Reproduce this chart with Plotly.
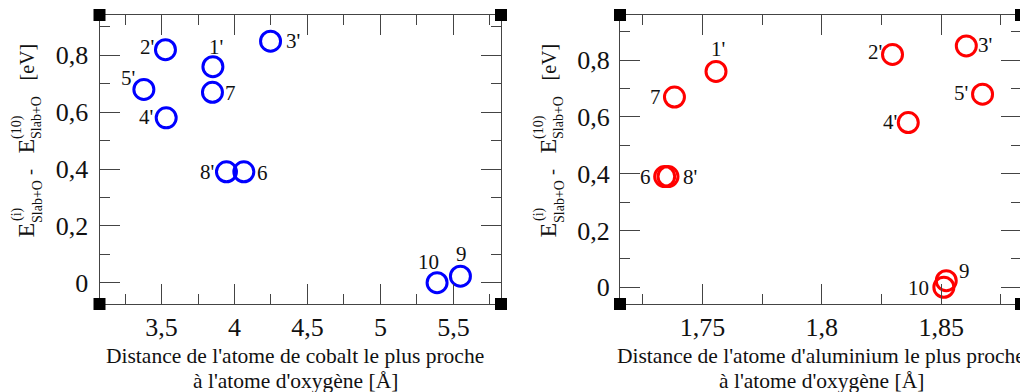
import plotly.graph_objects as go

# ---------------- data ----------------
labels = ["1'", "2'", "3'", "4'", "5'", "6", "7", "8'", "9", "10"]
energy = [0.76, 0.82, 0.85, 0.58, 0.68, 0.39, 0.67, 0.39, 0.023, 0.0]
dist_co = [3.852, 3.527, 4.247, 3.532, 3.379, 4.064, 3.849, 3.945, 5.548, 5.388]
dist_al = [1.7557, 1.8296, 1.8605, 1.8362, 1.8673, 1.7342, 1.7383, 1.7356, 1.8521, 1.8511]

x_title_co = ["Distance de l'atome de cobalt le plus proche", "à l'atome d'oxygène [Å]"]
x_title_al = ["Distance de l'atome d'aluminium le plus proche", "à l'atome d'oxygène [Å]"]

# label offsets (pixels) for each point label: (dx, dy up)
off_co = [(3, 20), (-18, 3), (22, 0), (-20, 1), (-16, 11), (19, -1), (18, -1), (-19, 0), (1, 22), (-9, 21)]
off_al = [(2, 22), (-18, 2), (19, 1), (-18, 1), (-22, 1), (-19, 0), (-19, 0), (22, 0), (18, 10), (-25, -1)]

# the page has an 8px body margin: the figure is placed at (8, 8)
OX, OY = 8, 8
W, H = 1020, 384
FONT = "Liberation Serif"
TXT = "#111"
AX = "#444"


def px(x):
    return (x - OX) / W


def py(y):
    return 1 - (y - OY) / H


fig = go.Figure()
fig.add_trace(go.Scatter(x=dist_co, y=energy, mode="markers", xaxis="x", yaxis="y",
                         marker=dict(symbol="circle-open", size=20, color="#0000ff", line=dict(width=3)),
                         showlegend=False, hoverinfo="skip"))
fig.add_trace(go.Scatter(x=dist_al, y=energy, mode="markers", xaxis="x2", yaxis="y2",
                         marker=dict(symbol="circle-open", size=20, color="#ff0000", line=dict(width=3)),
                         showlegend=False, hoverinfo="skip"))

ann = []
for lab, xv, yv, (dx, dy) in zip(labels, dist_co, energy, off_co):
    ann.append(dict(x=xv, y=yv, xref="x", yref="y", text=lab, showarrow=False,
                    xshift=dx, yshift=dy, font=dict(family=FONT, size=21, color=TXT)))
for lab, xv, yv, (dx, dy) in zip(labels, dist_al, energy, off_al):
    ann.append(dict(x=xv, y=yv, xref="x2", yref="y2", text=lab, showarrow=False,
                    xshift=dx, yshift=dy, font=dict(family=FONT, size=21, color=TXT)))

# x titles (one annotation per line)
for lines, cx in ((x_title_co, 295), (x_title_al, 821)):
    for line, cy in zip(lines, (356, 381)):
        ann.append(dict(x=px(cx), y=py(cy), xref="paper", yref="paper", text=line,
                        showarrow=False, xanchor="center", yanchor="middle",
                        font=dict(family=FONT, size=21.5, color=TXT)))

# y titles built from pieces (stacked super/subscripts)
pieces = [("E", 25.5, 230, 24), ("Slab+O", 37, 202, 14), ("(i)", 17, 214, 14),
          ("-", 30, 172, 18), ("E", 25.5, 146, 24), ("Slab+O", 37, 118, 14),
          ("(10)", 17, 127, 14), ("[eV]", 26.5, 62, 20)]
for shift in (0, 522):
    for txt, x0, y0, fs in pieces:
        ann.append(dict(x=px(x0 + shift), y=py(y0), xref="paper", yref="paper", text=txt,
                        showarrow=False, textangle=-90, xanchor="center", yanchor="middle",
                        font=dict(family=FONT, size=fs, color=TXT)))

# corner squares in plain paper coordinates (no pixel size mode)
shapes = []
for x_left, x_right in ((99.5, 501), (620, 1021)):
    for cx in (x_left, x_right):
        for cy in (15, 304):
            shapes.append(dict(type="rect", xref="paper", yref="paper",
                               x0=px(cx - 6), x1=px(cx + 6), y0=py(cy + 6), y1=py(cy - 6),
                               fillcolor="#000", line=dict(width=0)))

tf = dict(family=FONT, size=26, color=TXT)


def ax_style(minor_dtick):
    return dict(showgrid=False, zeroline=False, showline=True, linecolor=AX, linewidth=1.3,
                mirror="allticks", ticks="inside", ticklen=20, tickcolor=AX, tickwidth=1.3, tickfont=tf,
                minor=dict(ticks="inside", ticklen=10, tickcolor=AX, tickwidth=1.3, dtick=minor_dtick))


fig.update_layout(
    width=W, height=H, margin=dict(l=0, r=0, t=0, b=0),
    paper_bgcolor="white", plot_bgcolor="white", separators=", ",
    xaxis=dict(domain=[px(99.5), px(501)], range=[3.075, 5.826], dtick=0.5, anchor="y", **ax_style(0.25)),
    yaxis=dict(domain=[py(304), py(15)], range=[-0.075, 0.942], dtick=0.2, anchor="x",
               ticklabelstandoff=5, **ax_style(0.1)),
    xaxis2=dict(domain=[px(620), px(1021)], range=[1.7155, 1.8834], dtick=0.05, anchor="y2", **ax_style(0.025)),
    yaxis2=dict(domain=[py(304), py(15)], range=[-0.059, 0.959], dtick=0.2, anchor="x2",
                ticklabelstandoff=4, **ax_style(0.1)),
    annotations=ann, shapes=shapes,
)

fig.write_html("out.html")
